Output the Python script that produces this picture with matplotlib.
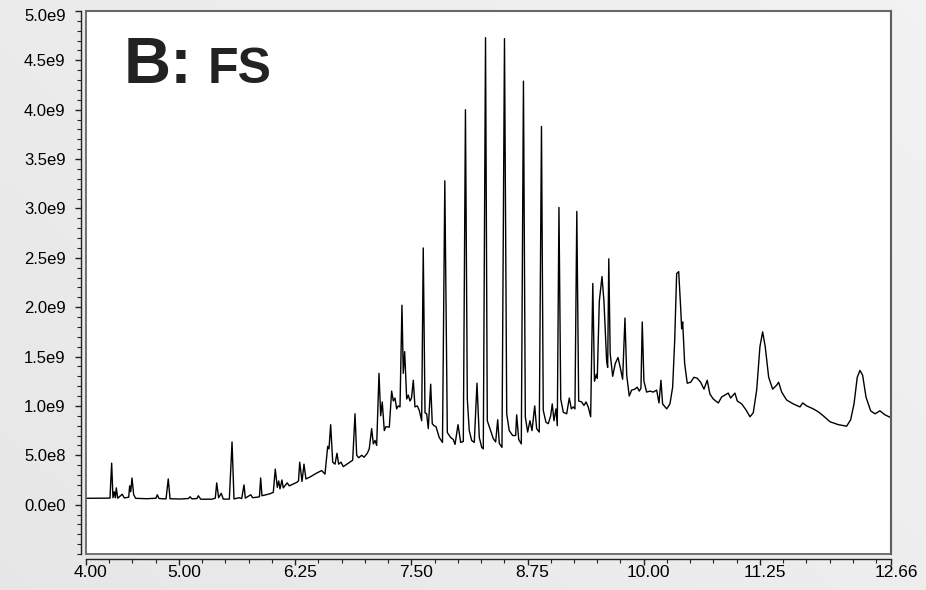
import numpy as np
import matplotlib
matplotlib.use("Agg")
import matplotlib.pyplot as plt
import matplotlib.transforms as mtransforms
from matplotlib.patches import Rectangle
from matplotlib.ticker import MultipleLocator

# retention time (min) and detector response (x1e9 counts)
rt = [4.000, 4.183, 4.258, 4.276, 4.290, 4.304, 4.315, 4.326, 4.341, 4.390,
      4.412, 4.441, 4.459, 4.470, 4.481, 4.495, 4.513, 4.534, 4.653, 4.753,
      4.767, 4.785, 4.861, 4.885, 4.904, 5.011, 5.103, 5.119, 5.140, 5.194,
      5.208, 5.234, 5.352, 5.391, 5.406, 5.427, 5.455, 5.477, 5.542, 5.571,
      5.592, 5.649, 5.675, 5.700, 5.714, 5.772, 5.793, 5.836, 5.866, 5.879,
      5.893, 5.979, 6.015, 6.036, 6.058, 6.073, 6.087, 6.108, 6.122, 6.165,
      6.187, 6.266, 6.286, 6.299, 6.324, 6.345, 6.366, 6.410, 6.482, 6.535,
      6.571, 6.600, 6.614, 6.632, 6.654, 6.679, 6.700, 6.718, 6.743, 6.768,
      6.822, 6.869, 6.894, 6.912, 6.934, 6.966, 6.991, 7.026, 7.047, 7.073,
      7.091, 7.109, 7.127, 7.152, 7.170, 7.187, 7.209, 7.227, 7.263, 7.288,
      7.306, 7.324, 7.342, 7.359, 7.378, 7.399, 7.413, 7.428, 7.450, 7.467,
      7.485, 7.502, 7.521, 7.539, 7.564, 7.585, 7.611, 7.628, 7.647, 7.665,
      7.682, 7.708, 7.725, 7.743, 7.765, 7.800, 7.835, 7.860, 7.887, 7.923,
      7.951, 7.970, 8.002, 8.031, 8.059, 8.082, 8.102, 8.123, 8.149, 8.177,
      8.206, 8.231, 8.257, 8.274, 8.298, 8.317, 8.346, 8.381, 8.407, 8.429,
      8.446, 8.475, 8.502, 8.526, 8.553, 8.590, 8.622, 8.633, 8.655, 8.683,
      8.706, 8.726, 8.751, 8.776, 8.798, 8.827, 8.848, 8.876, 8.900, 8.919,
      8.948, 8.973, 8.999, 9.016, 9.034, 9.056, 9.070, 9.088, 9.107, 9.135,
      9.171, 9.199, 9.221, 9.242, 9.260, 9.280, 9.300, 9.332, 9.357, 9.379,
      9.403, 9.429, 9.452, 9.470, 9.490, 9.500, 9.522, 9.551, 9.572, 9.601,
      9.612, 9.624, 9.639, 9.666, 9.694, 9.723, 9.745, 9.773, 9.798, 9.817,
      9.844, 9.870, 9.906, 9.930, 9.952, 9.970, 9.984, 10.002, 10.031, 10.067,
      10.102, 10.139, 10.164, 10.185, 10.203, 10.247, 10.282, 10.311, 10.333, 10.354,
      10.376, 10.397, 10.408, 10.419, 10.440, 10.468, 10.505, 10.540, 10.576, 10.612,
      10.648, 10.683, 10.712, 10.748, 10.802, 10.838, 10.909, 10.935, 10.981, 11.006,
      11.054, 11.100, 11.143, 11.178, 11.215, 11.250, 11.279, 11.307, 11.344, 11.387,
      11.430, 11.451, 11.484, 11.537, 11.609, 11.681, 11.710, 11.753, 11.824, 11.878,
      11.931, 12.003, 12.093, 12.183, 12.226, 12.262, 12.297, 12.326, 12.355, 12.391,
      12.441, 12.488, 12.541, 12.595, 12.660]

signal = [0.064, 0.065, 0.066, 0.42, 0.07, 0.13, 0.07, 0.17, 0.065, 0.105,
          0.068, 0.072, 0.075, 0.19, 0.13, 0.27, 0.10, 0.064, 0.06, 0.065,
          0.10, 0.062, 0.058, 0.26, 0.060, 0.057, 0.062, 0.08, 0.058, 0.062,
          0.09, 0.055, 0.055, 0.065, 0.22, 0.07, 0.115, 0.056, 0.056, 0.635,
          0.058, 0.07, 0.062, 0.20, 0.066, 0.10, 0.07, 0.075, 0.08, 0.27,
          0.09, 0.11, 0.125, 0.36, 0.175, 0.24, 0.16, 0.25, 0.17, 0.22,
          0.19, 0.225, 0.24, 0.43, 0.235, 0.41, 0.26, 0.28, 0.32, 0.345,
          0.31, 0.59, 0.565, 0.81, 0.43, 0.41, 0.52, 0.41, 0.43, 0.385,
          0.42, 0.45, 0.92, 0.50, 0.475, 0.50, 0.48, 0.52, 0.565, 0.77,
          0.615, 0.65, 0.60, 1.33, 0.90, 1.04, 0.75, 0.79, 0.785, 1.15,
          1.05, 1.08, 0.97, 1.00, 0.99, 2.02, 1.33, 1.55, 1.07, 1.11,
          1.05, 1.08, 1.26, 0.99, 1.00, 0.955, 0.85, 2.60, 0.93, 0.92,
          0.77, 1.22, 0.82, 0.80, 0.79, 0.68, 0.63, 3.28, 0.73, 0.68,
          0.66, 0.61, 0.81, 0.63, 0.64, 4.00, 1.07, 0.75, 0.65, 0.63,
          1.23, 0.68, 0.58, 0.565, 4.73, 0.85, 0.77, 0.67, 0.635, 0.86,
          0.62, 0.58, 4.72, 0.92, 0.75, 0.70, 0.70, 0.91, 0.66, 0.615,
          4.29, 0.89, 0.735, 0.85, 0.75, 1.00, 0.77, 0.735, 3.83, 0.955,
          0.835, 0.82, 0.90, 1.02, 0.85, 0.97, 0.80, 3.01, 1.07, 0.935,
          0.92, 1.08, 0.97, 0.99, 0.97, 2.97, 1.05, 1.04, 1.005, 1.04,
          0.99, 0.89, 2.24, 1.25, 1.32, 1.28, 2.06, 2.31, 2.06, 1.45,
          1.39, 2.49, 1.53, 1.30, 1.43, 1.49, 1.40, 1.27, 1.89, 1.31,
          1.10, 1.16, 1.17, 1.19, 1.15, 1.18, 1.85, 1.25, 1.14, 1.15,
          1.14, 1.16, 1.03, 1.26, 1.02, 0.97, 1.02, 1.19, 1.66, 2.34,
          2.36, 2.00, 1.78, 1.85, 1.43, 1.23, 1.24, 1.29, 1.28, 1.24,
          1.17, 1.26, 1.12, 1.07, 1.03, 1.09, 1.13, 1.08, 1.13, 1.05,
          1.02, 0.96, 0.89, 0.93, 1.16, 1.60, 1.75, 1.60, 1.29, 1.17,
          1.21, 1.24, 1.14, 1.06, 1.02, 0.99, 1.03, 1.00, 0.97, 0.94,
          0.90, 0.84, 0.81, 0.795, 0.86, 1.02, 1.29, 1.36, 1.31, 1.09,
          0.95, 0.92, 0.95, 0.91, 0.88]

x_ticks = [4.00, 5.00, 6.25, 7.50, 8.75, 10.00, 11.25, 12.66]
x_labels = ["4.00", "5.00", "6.25", "7.50", "8.75", "10.00", "11.25", "12.66"]
y_ticks = [0.0, 0.5, 1.0, 1.5, 2.0, 2.5, 3.0, 3.5, 4.0, 4.5, 5.0]
y_labels = ["0.0e0", "5.0e8", "1.0e9", "1.5e9", "2.0e9", "2.5e9",
            "3.0e9", "3.5e9", "4.0e9", "4.5e9", "5.0e9"]

W, H = 926, 590
fig = plt.figure(figsize=(W / 100, H / 100), dpi=100)
plt.rcParams['font.family'] = ['Liberation Sans', 'DejaVu Sans']

# soft grey backdrop, lighter towards the upper right
bg = fig.add_axes([0, 0, 1, 1], zorder=0)
gx, gy = np.meshgrid(np.linspace(0, 1, 300), np.linspace(0, 1, 200))
shade = 0.905 + 0.045 * (0.6 * gx + 0.4 * gy)
bg.imshow(np.dstack([shade] * 3), extent=[0, 1, 0, 1], origin='lower', aspect='auto')
bg.axis('off')

left, right, top, bottom = 86, 891, 11, 554
ax = fig.add_axes([left / W, 1 - bottom / H, (right - left) / W, (bottom - top) / H], zorder=1)
ax.set_facecolor('white')

ax.plot(rt, signal, color='black', lw=1.0)

ax.set_xlim(4.00, 12.66)
ax.set_ylim(-0.5, 5.0)

ax.set_xticks(x_ticks)
ax.set_xticklabels(x_labels)
ax.xaxis.set_minor_locator(MultipleLocator(0.25))
ax.set_yticks(y_ticks)
ax.set_yticklabels(y_labels)
ax.yaxis.set_minor_locator(MultipleLocator(0.1))

# tick axes sit a little outside the plot frame
ax.spines['left'].set_position(('outward', 3.6))
ax.spines['bottom'].set_position(('outward', 3.6))
for s in ['left', 'bottom']:
    ax.spines[s].set_color('#222222')
    ax.spines[s].set_linewidth(1.0)
ax.spines['top'].set_color('#777777')
ax.spines['top'].set_linewidth(1.5)
ax.spines['right'].set_color('#111111')
ax.spines['right'].set_linewidth(1.5)
ax.add_patch(Rectangle((0, 0), 1, 1, transform=ax.transAxes, fill=False,
                       edgecolor='#666666', lw=1.3, clip_on=False, zorder=5))

ax.tick_params(axis='y', which='major', length=4, width=1, direction='out',
               labelsize=12, pad=7, colors='#222222')
ax.tick_params(axis='y', which='minor', length=3, width=0.8, direction='out', colors='#222222')
ax.tick_params(axis='x', which='major', length=4, width=1, direction='out',
               labelsize=12.5, pad=0, colors='#222222')
ax.tick_params(axis='x', which='minor', length=3, width=0.8, direction='out', colors='#222222')

# x labels sit slightly right of their ticks, the top y label is nudged down
shift_x = mtransforms.ScaledTranslation(5 / 100, 0, fig.dpi_scale_trans)
for lab in ax.get_xticklabels():
    lab.set_color('black')
    lab.set_transform(lab.get_transform() + shift_x)
for lab in ax.get_yticklabels():
    lab.set_color('black')
ylabs = ax.get_yticklabels()
ylabs[-1].set_transform(ylabs[-1].get_transform() +
                        mtransforms.ScaledTranslation(0, -4 / 100, fig.dpi_scale_trans))

fig.text(124 / W, 1 - 83 / H, "B:", fontsize=47, fontweight='bold', color='#222222',
         ha='left', va='baseline', zorder=3)
fig.text(208 / W, 1 - 83 / H, "FS", fontsize=36, fontweight='bold', color='#222222',
         ha='left', va='baseline', zorder=3)

fig.savefig("out.png", dpi=100)
